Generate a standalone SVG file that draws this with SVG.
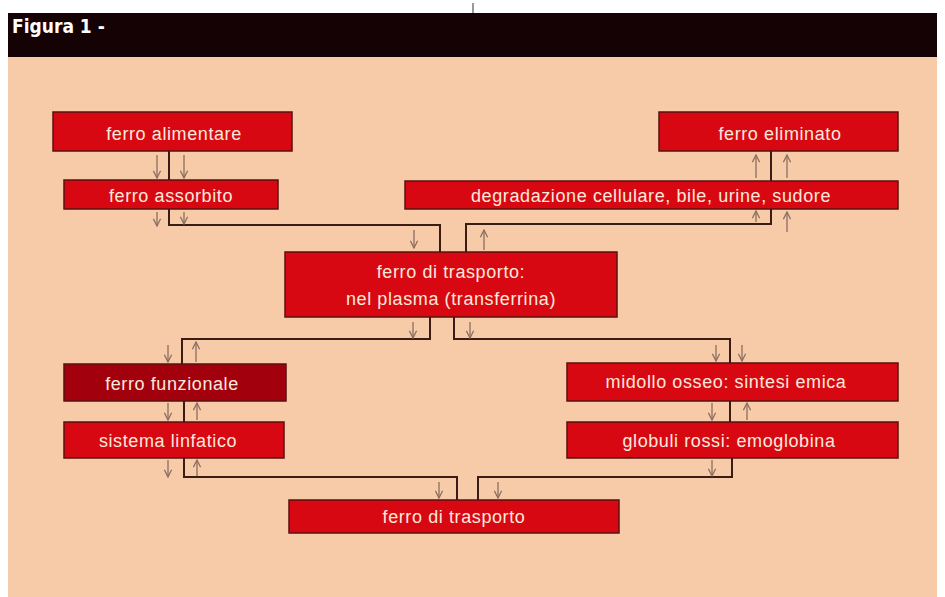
<svg xmlns="http://www.w3.org/2000/svg" width="945" height="597" viewBox="0 0 945 597">
<style>
.box{fill:#d80812;stroke:#5a1010;stroke-width:1.5}
.dark{fill:#a3000e}
.lbl{font-family:"Liberation Sans",Arial,sans-serif;font-size:18px;letter-spacing:0.6px;fill:#fbe9dc;text-anchor:middle}
.conn{fill:none;stroke:#3a1c14;stroke-width:2}
.arr{stroke:#8a6d60;stroke-width:1.3;fill:none;marker-end:url(#ah)}
</style>
<defs>
<marker id="ah" viewBox="0 0 10 10" refX="9" refY="5" markerWidth="9" markerHeight="9" markerUnits="userSpaceOnUse" orient="auto">
<path d="M1,1 L9,5 L1,9" fill="none" stroke="#8a6d60" stroke-width="1.4"/>
</marker>
</defs>
<rect width="945" height="597" fill="#ffffff"/>
<rect x="8" y="57" width="929" height="540" fill="#f8cba8"/>
<rect x="8" y="13" width="929" height="44" fill="#140204"/>
<line x1="473" y1="3" x2="473" y2="13" stroke="#333" stroke-width="1"/>
<text x="12" y="33" style="font-family:'DejaVu Sans Condensed','DejaVu Sans',sans-serif;font-weight:bold;font-size:19px;fill:#ffffff">Figura 1 -</text>

<g id="connectors">
<path class="conn" d="M169,151 V180"/>
<path class="conn" d="M169,209 V225 H440 V252"/>
<path class="conn" d="M771,151 V181"/>
<path class="conn" d="M771,209 V224 H466 V252"/>
<path class="conn" d="M430,317 V339 H182 V364"/>
<path class="conn" d="M454,317 V339 H730 V363"/>
<path class="conn" d="M184,401 V422"/>
<path class="conn" d="M730,401 V422"/>
<path class="conn" d="M184,458 V477 H457 V500"/>
<path class="conn" d="M732,458 V477 H478 V500"/>
<line class="arr" x1="157" y1="155" x2="157" y2="178"/>
<line class="arr" x1="184" y1="155" x2="184" y2="178"/>
<line class="arr" x1="157" y1="212" x2="157" y2="226"/>
<line class="arr" x1="184" y1="212" x2="184" y2="224"/>
<line class="arr" x1="414" y1="230" x2="414" y2="248"/>
<line class="arr" x1="756" y1="178" x2="756" y2="155"/>
<line class="arr" x1="787" y1="178" x2="787" y2="155"/>
<line class="arr" x1="756" y1="222" x2="756" y2="211"/>
<line class="arr" x1="787" y1="232" x2="787" y2="212"/>
<line class="arr" x1="484" y1="250" x2="484" y2="230"/>
<line class="arr" x1="413" y1="322" x2="413" y2="338"/>
<line class="arr" x1="470" y1="322" x2="470" y2="338"/>
<line class="arr" x1="168" y1="345" x2="168" y2="362"/>
<line class="arr" x1="196" y1="362" x2="196" y2="342"/>
<line class="arr" x1="168" y1="403" x2="168" y2="420"/>
<line class="arr" x1="197" y1="420" x2="197" y2="403"/>
<line class="arr" x1="168" y1="460" x2="168" y2="477"/>
<line class="arr" x1="197" y1="476" x2="197" y2="460"/>
<line class="arr" x1="716" y1="345" x2="716" y2="361"/>
<line class="arr" x1="742" y1="345" x2="742" y2="361"/>
<line class="arr" x1="712" y1="403" x2="712" y2="420"/>
<line class="arr" x1="747" y1="420" x2="747" y2="403"/>
<line class="arr" x1="712" y1="460" x2="712" y2="476"/>
<line class="arr" x1="439" y1="482" x2="439" y2="498"/>
<line class="arr" x1="498" y1="482" x2="498" y2="498"/>
</g>

<g id="ferro-alimentare"><rect class="box" x="53" y="112" width="239" height="39"/><text class="lbl" x="174" y="140">ferro alimentare</text></g>
<g id="ferro-assorbito"><rect class="box" x="64" y="180" width="214" height="29"/><text class="lbl" x="171" y="202">ferro assorbito</text></g>
<g id="ferro-eliminato"><rect class="box" x="659" y="112" width="239" height="39"/><text class="lbl" x="780" y="140">ferro eliminato</text></g>
<g id="degradazione"><rect class="box" x="405" y="181" width="493" height="28"/><text class="lbl" x="651" y="202">degradazione cellulare, bile, urine, sudore</text></g>
<g id="trasporto-plasma"><rect class="box" x="285" y="252" width="332" height="65"/><text class="lbl" x="451" y="278">ferro di trasporto:</text><text class="lbl" x="451" y="305">nel plasma (transferrina)</text></g>
<g id="ferro-funzionale"><rect class="box dark" x="64" y="364" width="222" height="37"/><text class="lbl" x="172" y="390">ferro funzionale</text></g>
<g id="sistema-linfatico"><rect class="box" x="64" y="422" width="220" height="36"/><text class="lbl" x="168" y="447">sistema linfatico</text></g>
<g id="midollo"><rect class="box" x="567" y="363" width="331" height="38"/><text class="lbl" x="726" y="388">midollo osseo: sintesi emica</text></g>
<g id="globuli"><rect class="box" x="567" y="422" width="331" height="36"/><text class="lbl" x="729" y="447">globuli rossi: emoglobina</text></g>
<g id="ferro-trasporto"><rect class="box" x="289" y="500" width="330" height="33"/><text class="lbl" x="454" y="523">ferro di trasporto</text></g>
</svg>
